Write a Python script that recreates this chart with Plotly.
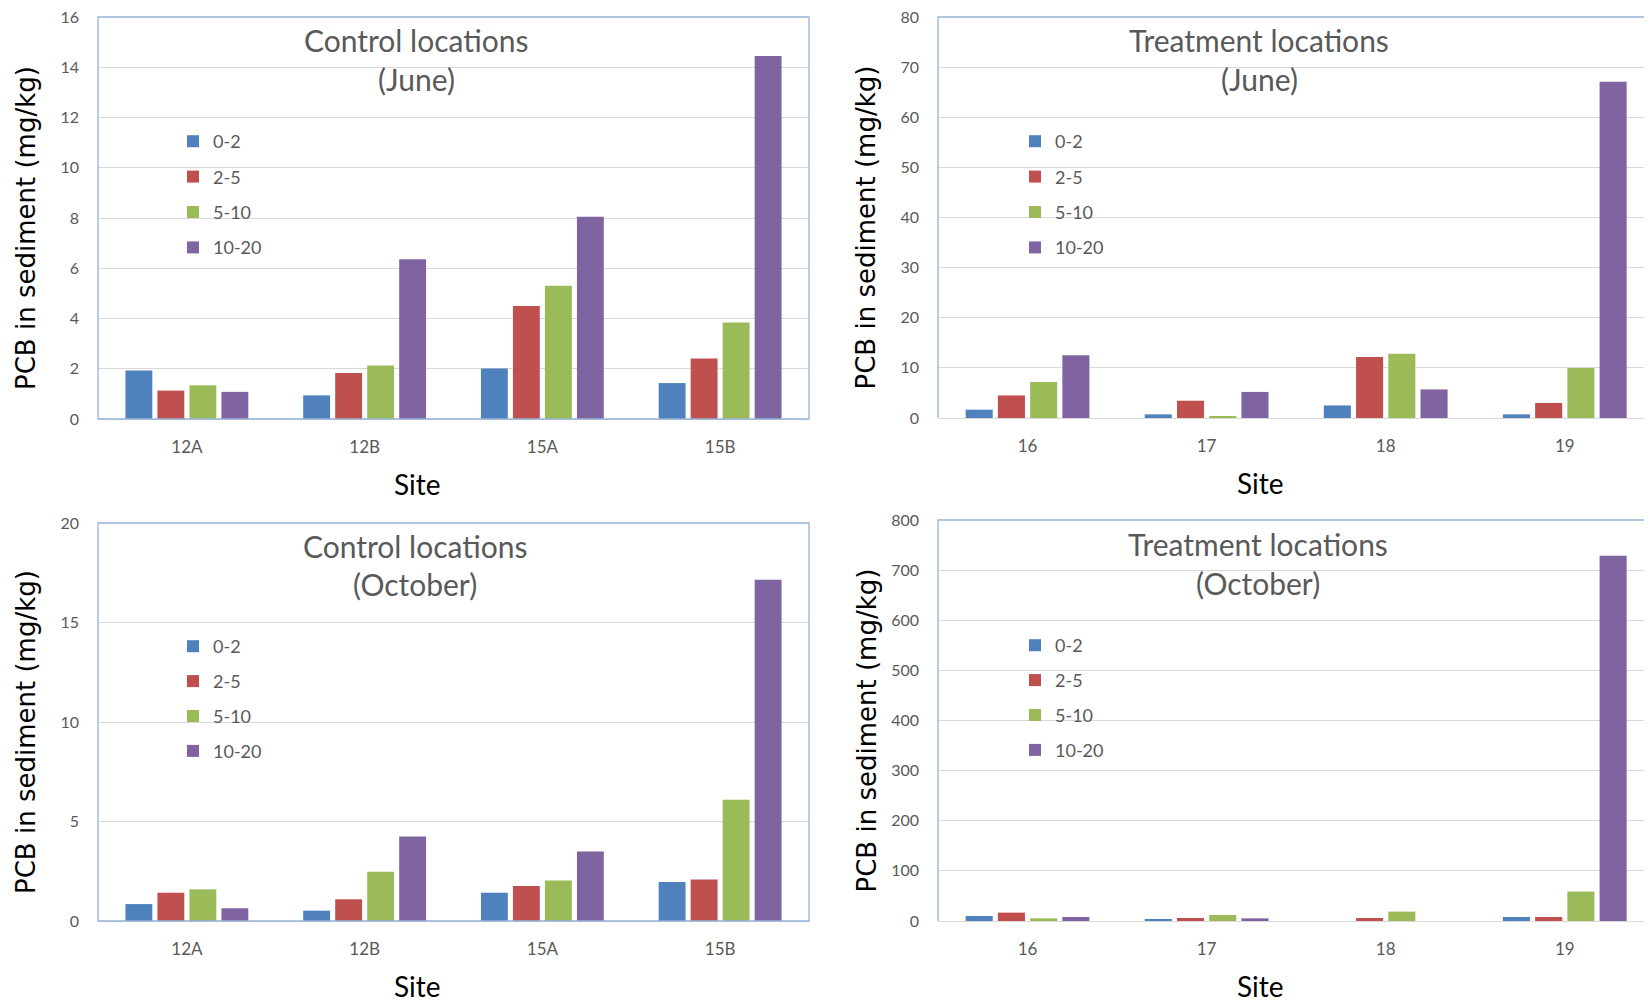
import plotly.graph_objects as go

# The page body adds an 8px offset; the figure is sized so that the page is exactly filled.
OFF = 8
W, H = 1652 - OFF, 1002 - OFF

depths = ["0-2", "2-5", "5-10", "10-20"]
colors = ["#4F81BD", "#C0504D", "#9BBB59", "#8064A2"]

control_sites = ["12A", "12B", "15A", "15B"]
treatment_sites = ["16", "17", "18", "19"]

# Control locations (June)
cj_0_2 = [1.93, 0.94, 2.01, 1.43]
cj_2_5 = [1.13, 1.83, 4.50, 2.41]
cj_5_10 = [1.34, 2.13, 5.30, 3.84]
cj_10_20 = [1.08, 6.36, 8.05, 14.45]

# Treatment locations (June)
tj_0_2 = [1.66, 0.73, 2.5, 0.73]
tj_2_5 = [4.5, 3.45, 12.15, 3.0]
tj_5_10 = [7.2, 0.4, 12.8, 9.96]
tj_10_20 = [12.5, 5.2, 5.7, 67.1]

# Control locations (October)
co_0_2 = [0.85, 0.52, 1.42, 1.96]
co_2_5 = [1.42, 1.09, 1.76, 2.08]
co_5_10 = [1.59, 2.48, 2.03, 6.09]
co_10_20 = [0.64, 4.24, 3.49, 17.15]

# Treatment locations (October)
to_0_2 = [10, 3.3, 0, 8]
to_2_5 = [16.7, 6, 6, 8]
to_5_10 = [5.3, 12, 18.7, 58.7]
to_10_20 = [8, 5.3, 0, 728.7]

# positions below are in page pixels (reference coordinates)
panels = [
    dict(sites=control_sites, series=[cj_0_2, cj_2_5, cj_5_10, cj_10_20],
         title1="Control locations", title2="(June)", ymax=16, dtick=2, xr=3.5,
         px=(98, 809), py=(17, 419), tpos=(416, 40, 79), leg=(173, 123), gap=9),
    dict(sites=treatment_sites, series=[tj_0_2, tj_2_5, tj_5_10, tj_10_20],
         title1="Treatment locations", title2="(June)", ymax=80, dtick=10, xr=3.487,
         px=(938, 1652), py=(17, 418), tpos=(1259, 40, 79), leg=(1015, 123), gap=9),
    dict(sites=control_sites, series=[co_0_2, co_2_5, co_5_10, co_10_20],
         title1="Control locations", title2="(October)", ymax=20, dtick=5, xr=3.5,
         px=(98, 809), py=(523, 921), tpos=(415, 546, 584), leg=(173, 628), gap=8.5),
    dict(sites=treatment_sites, series=[to_0_2, to_2_5, to_5_10, to_10_20],
         title1="Treatment locations", title2="(October)", ymax=800, dtick=100, xr=3.487,
         px=(938, 1652), py=(520, 921), tpos=(1258, 544, 583), leg=(1015, 627), gap=8.5),
]

TXT = "#595959"
GRID = "#D9D9D9"
FRAME = "#95B3D7"
FONT = "Lato, 'Open Sans', sans-serif"


def fx(px):
    return (px - OFF) / W


def fy(py):
    return 1 - (py - OFF) / H


fig = go.Figure()
layout = dict(width=W, height=H, margin=dict(l=0, r=0, t=0, b=0, autoexpand=False),
              template="none",
              paper_bgcolor="white", plot_bgcolor="white",
              barmode="group", bargap=0.28, bargroupgap=0.16,
              showlegend=True, annotations=[], shapes=[],
              font=dict(family=FONT, color=TXT))

for i, p in enumerate(panels):
    n = i + 1
    sx = "" if n == 1 else str(n)
    xa, ya = "x" + sx, "y" + sx
    leg = "legend" + sx
    for d, vals, c in zip(depths, p["series"], colors):
        fig.add_trace(go.Bar(x=p["sites"], y=vals, name=d, marker_color=c,
                             marker_line_width=0, xaxis=xa, yaxis=ya,
                             legend=leg, legendgroup=f"{n}-{d}"))
    x0, x1 = p["px"]
    y0, y1 = p["py"]
    layout["xaxis" + sx] = dict(domain=[fx(x0), min(1.0, fx(x1))], anchor=ya, type="category",
                                range=[-0.5, p["xr"]], showgrid=False, zeroline=False,
                                showline=False, ticks="", ticklabelstandoff=16,
                                automargin=False, ticklabeloverflow="allow",
                                tickfont=dict(size=17, color=TXT, family=FONT))
    layout["yaxis" + sx] = dict(domain=[fy(y1), fy(y0)], anchor=xa,
                                range=[0, p["ymax"]], dtick=p["dtick"],
                                showgrid=True, gridcolor=GRID, gridwidth=1,
                                zeroline=True, zerolinecolor=GRID, showline=False,
                                ticks="", ticklabelstandoff=18, automargin=False,
                                ticklabeloverflow="allow",
                                tickfont=dict(size=16, color=TXT, family=FONT))
    lx, ly = p["leg"]
    layout[leg] = dict(x=fx(lx), y=fy(ly), xanchor="left", yanchor="top",
                       xref="paper", yref="paper", bgcolor="rgba(0,0,0,0)",
                       traceorder="grouped", tracegroupgap=p["gap"],
                       font=dict(size=18, color=TXT, family=FONT),
                       itemclick=False, itemdoubleclick=False)
    # frame
    if x1 >= 1652:
        layout["shapes"].append(dict(type="path", xref="paper", yref="paper",
                                     path=f"M 1,{fy(y0)} L {fx(x0)},{fy(y0)} L {fx(x0)},{fy(y1)}",
                                     line=dict(color=FRAME, width=1.3)))
    else:
        layout["shapes"].append(dict(type="rect", xref="paper", yref="paper",
                                     x0=fx(x0), x1=fx(x1), y0=fy(y1), y1=fy(y0),
                                     line=dict(color=FRAME, width=1.3)))
    tx, ty1, ty2 = p["tpos"]
    for t, ty in ((p["title1"], ty1), (p["title2"], ty2)):
        layout["annotations"].append(dict(text=t, x=fx(tx), y=fy(ty), xref="paper",
                                          yref="paper", showarrow=False, xanchor="center",
                                          yanchor="middle",
                                          font=dict(size=30, color=TXT, family=FONT)))
    # axis titles
    layout["annotations"].append(dict(text="Site", x=fx(417 if x0 < 500 else 1260),
                                      y=fy(y1 + 65), xref="paper", yref="paper",
                                      showarrow=False, xanchor="center", yanchor="middle",
                                      borderpad=0,
                                      font=dict(size=28, color="black", family=FONT)))
    layout["annotations"].append(dict(text="PCB in sediment (mg/kg)", x=fx(x0 - 72),
                                      y=fy((y0 + y1) / 2 + 10), xref="paper", yref="paper",
                                      showarrow=False, xanchor="center", yanchor="middle",
                                      textangle=-90,
                                      font=dict(size=26, color="black",
                                                family="'DejaVu Sans', sans-serif")))

fig.update_layout(**layout)
fig.write_html("out.html")
